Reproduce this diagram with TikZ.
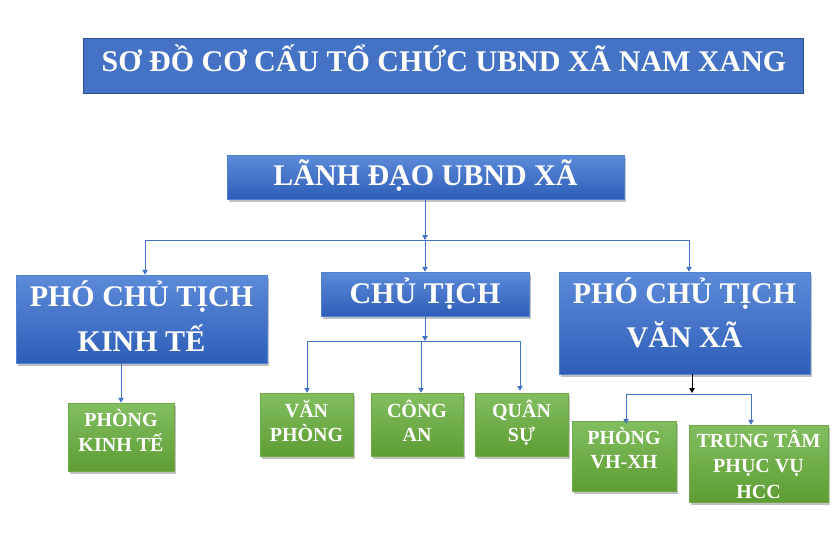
\documentclass[tikz,border=0pt]{standalone}
\usepackage{fontspec}
\setmainfont{Liberation Serif}
\usetikzlibrary{arrows.meta,shadows}
\definecolor{titleblue}{HTML}{4472C4}
\definecolor{titleedge}{HTML}{2F528F}
\definecolor{bluetop}{HTML}{5C8BD9}
\definecolor{bluebot}{HTML}{2E5DB8}
\definecolor{blueedge}{HTML}{5082D2}
\definecolor{greentop}{HTML}{82BE60}
\definecolor{greenbot}{HTML}{5E9D33}
\definecolor{greenedge}{HTML}{6FAA47}
\definecolor{linkblue}{HTML}{4472C4}
\begin{document}
\begin{tikzpicture}[x=1pt,y=-1pt,
  titlebox/.style={rectangle,inner sep=0pt,fill=titleblue,draw=titleedge,line width=0.8pt},
  bluebox/.style={rectangle,inner sep=0pt,top color=bluetop,bottom color=bluebot,draw=blueedge,line width=0.5pt,
    drop shadow={shadow xshift=2pt,shadow yshift=-2.5pt,opacity=0.35,fill=black!70}},
  greenbox/.style={rectangle,inner sep=0pt,top color=greentop,bottom color=greenbot,draw=greenedge,line width=0.5pt,
    drop shadow={shadow xshift=2pt,shadow yshift=-2.5pt,opacity=0.35,fill=black!70}},
  bigtxt/.style={anchor=base,inner sep=0pt,text=white,font=\bfseries\fontsize{30}{30}\selectfont},
  smalltxt/.style={anchor=base,inner sep=0pt,text=white,font=\bfseries\fontsize{20}{20}\selectfont},
  link/.style={draw=linkblue,line width=1pt},
  arr/.style={link,-{Triangle[width=5.5pt,length=5pt]}},
  blackarr/.style={draw=black,line width=1pt,-{Triangle[width=5.5pt,length=5pt]}}
]
\useasboundingbox (0,0) rectangle (835,543);
\fill[white] (0,0) rectangle (835,543);

% title
\node[titlebox,minimum width=720pt,minimum height=55pt] (title) at (443,65.5) {};
\node[bigtxt] (titletxt) at (444,71) {SƠ ĐỒ CƠ CẤU TỔ CHỨC UBND XÃ NAM XANG};

% boxes
\node[bluebox,minimum width=397pt,minimum height=44pt] (ld) at (425.5,177) {};
\node[bluebox,minimum width=251pt,minimum height=88pt] (kt) at (141.5,319) {};
\node[bluebox,minimum width=208pt,minimum height=44pt] (ct) at (425,294) {};
\node[bluebox,minimum width=251pt,minimum height=102pt] (vx) at (684.5,323) {};
\node[greenbox,minimum width=106pt,minimum height=68pt] (pkt) at (121,437) {};
\node[greenbox,minimum width=93pt,minimum height=63pt] (vp) at (306.5,424.5) {};
\node[greenbox,minimum width=92pt,minimum height=63pt] (ca) at (417,424.5) {};
\node[greenbox,minimum width=93pt,minimum height=63pt] (qs) at (521.5,424.5) {};
\node[greenbox,minimum width=104pt,minimum height=70pt] (vh) at (624,456) {};
\node[greenbox,minimum width=139pt,minimum height=77pt] (hcc) at (758.5,463.5) {};

% texts
\node[bigtxt] (ldt) at (425.5,185) {LÃNH ĐẠO UBND XÃ};
\node[bigtxt] (ktt1) at (141.5,306) {PHÓ CHỦ TỊCH};
\node[bigtxt] (ktt2) at (141.5,351) {KINH TẾ};
\node[bigtxt] (ctt) at (425,303) {CHỦ TỊCH};
\node[bigtxt] (vxt1) at (684.5,303) {PHÓ CHỦ TỊCH};
\node[bigtxt] (vxt2) at (684.5,347) {VĂN XÃ};
\node[smalltxt] (pktt1) at (121,426) {PHÒNG};
\node[smalltxt] (pktt2) at (121,451) {KINH TẾ};
\node[smalltxt] (vpt1) at (306.5,417) {VĂN};
\node[smalltxt] (vpt2) at (306.5,441) {PHÒNG};
\node[smalltxt] (cat1) at (417,417) {CÔNG};
\node[smalltxt] (cat2) at (417,441) {AN};
\node[smalltxt] (qst1) at (521.5,417) {QUÂN};
\node[smalltxt] (qst2) at (521.5,441) {SỰ};
\node[smalltxt] (vht1) at (624,444) {PHÒNG};
\node[smalltxt] (vht2) at (624,468) {VH-XH};
\node[smalltxt] (hcct1) at (758.5,447) {TRUNG TÂM};
\node[smalltxt] (hcct2) at (758.5,472) {PHỤC VỤ};
\node[smalltxt] (hcct3) at (758.5,498) {HCC};

% junctions
\coordinate (j1) at (425,240);
\coordinate (j1l) at (145,240);
\coordinate (j1r) at (689,240);
\coordinate (j2) at (425,341);
\coordinate (j2l) at (307,341);
\coordinate (j2m) at (421,341);
\coordinate (j2r) at (520,341);
\coordinate (ktb) at (121,363);
\coordinate (vxb) at (692,374);
\coordinate (j3) at (692,394);
\coordinate (j3l) at (626,394);
\coordinate (j3r) at (751,394);

% connectors
\draw[arr] (ld.south -| j1) -- (j1);
\draw[link] (j1l) -- (j1r);
\draw[arr] (j1) -- (ct.north -| j1);
\draw[arr] (j1l) -- (kt.north -| j1l);
\draw[arr] (j1r) -- (vx.north -| j1r);

\draw[arr] (ktb) -- (pkt.north -| ktb);

\draw[arr] (ct.south -| j2) -- (j2);
\draw[link] (j2l) -- (j2r);
\draw[arr] (j2l) -- (vp.north -| j2l);
\draw[arr] (j2m) -- (ca.north -| j2m);
\draw[arr] (j2r) -- ([yshift=2pt]qs.north -| j2r);

\draw[blackarr] (vxb) -- ([yshift=1pt]j3);
\draw[link] (j3l) -- (j3r);
\draw[arr] (j3l) -- ([yshift=-3pt]vh.north -| j3l);
\draw[arr] (j3r) -- (hcc.north -| j3r);
\end{tikzpicture}
\end{document}
